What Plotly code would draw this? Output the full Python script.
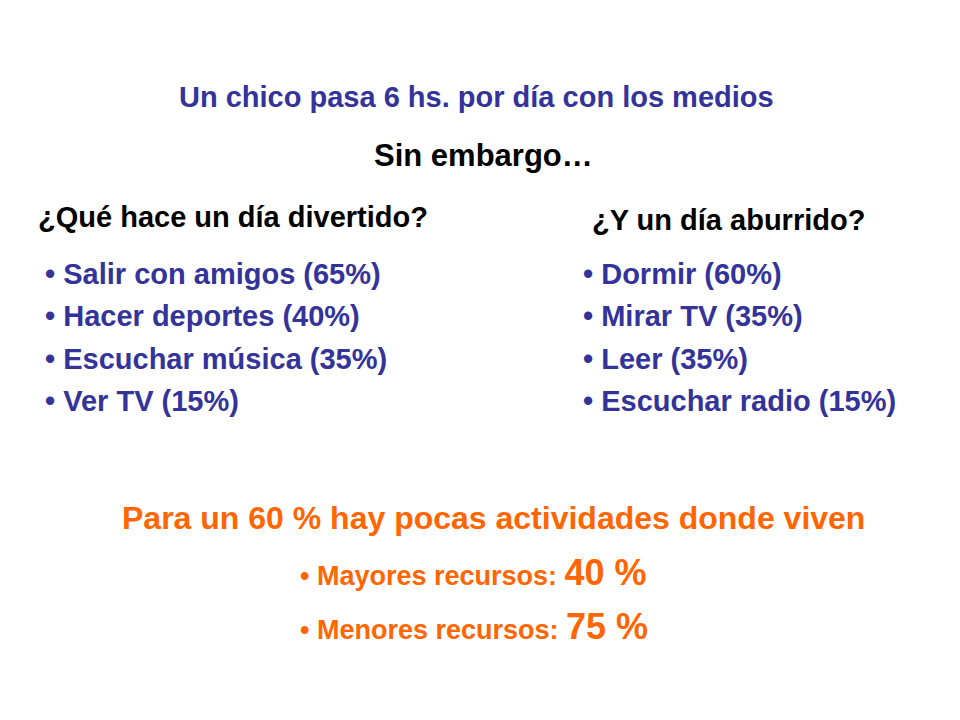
import plotly.graph_objects as go

BLUE = "#333399"
ORANGE = "#FF6600"
FONT = "Liberation Sans, Arial, sans-serif"

title = "Un chico pasa 6 hs. por día con los medios"
subtitle = "Sin embargo…"
fun_header = "¿Qué hace un día divertido?"
boring_header = "¿Y un día aburrido?"
fun_items = ["Salir con amigos (65%)", "Hacer deportes (40%)", "Escuchar música (35%)", "Ver TV (15%)"]
boring_items = ["Dormir (60%)", "Mirar TV (35%)", "Leer (35%)", "Escuchar radio (15%)"]
bottom_title = "Para un 60 % hay pocas actividades donde viven"
resource_labels = ["Mayores recursos:", "Menores recursos:"]
resource_values = ["40 %", "75 %"]

fig = go.Figure()
notes = []

def note(x, y, text, size, color, anchor="left"):
    notes.append(dict(x=x, y=y, text=text, showarrow=False, xanchor=anchor, yanchor="middle",
                      font=dict(family=FONT, size=size, color=color)))

note(468, 89, "<b>%s</b>" % title, 29, BLUE, "center")
note(475, 147, "<b>%s</b>" % subtitle, 31, "black", "center")
note(28, 209, "<b>%s</b>" % fun_header, 29, "black")
note(582, 212, "<b>%s</b>" % boring_header, 29, "black")

for i, (a, b) in enumerate(zip(fun_items, boring_items)):
    y = 266 + i * 42.3
    note(35, y, "<b>• %s</b>" % a, 29, BLUE)
    note(573, y, "<b>• %s</b>" % b, 29, BLUE)

note(485, 510, "<b>%s</b>" % bottom_title, 32, ORANGE, "center")
for i, (lab, val) in enumerate(zip(resource_labels, resource_values)):
    y = 564 + i * 54
    note(290, y, "<b>• %s <span style='font-size:36px'>%s</span></b>" % (lab, val), 27, ORANGE)

fig.update_layout(
    width=960, height=720,
    margin=dict(l=0, r=0, t=0, b=0),
    paper_bgcolor="white", plot_bgcolor="white",
    xaxis=dict(range=[0, 960], visible=False, fixedrange=True),
    yaxis=dict(range=[720, 0], visible=False, fixedrange=True),
    annotations=notes,
    showlegend=False,
)

fig.write_html("out.html")
